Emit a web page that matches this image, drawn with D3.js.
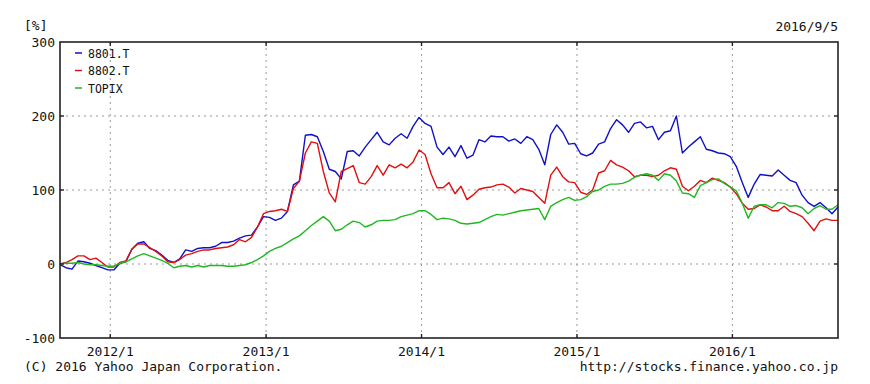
<!DOCTYPE html>
<html lang="ja">
<head>
  <meta charset="UTF-8">
  <title>8801.T / 8802.T / TOPIX</title>
  <script src="https://d3js.org/d3.v7.min.js"></script>
  <style>
    body { margin: 0; background: #fff; }
    svg text { font-family: "DejaVu Sans Mono", "Liberation Mono", monospace; fill: #111; }
    .grid line { stroke: #999; stroke-dasharray: 2,4; }
  </style>
</head>
<body>
  <div id="chart"></div>
  <script>
    // range of the chart: five years up to the date shown top right
    const startDate = new Date(2011, 8, 5);
    const endDate = new Date(2016, 8, 5);

    const seriesNames = ["8801.T", "8802.T", "TOPIX"];
    const seriesColors = ["#1010c8", "#e01010", "#20b820"];

    const yTicks = [-100, 0, 100, 200, 300];
    const xTickDates = [new Date(2012, 0, 1), new Date(2013, 0, 1), new Date(2014, 0, 1), new Date(2015, 0, 1), new Date(2016, 0, 1)];
    const xTickLabels = ["2012/1", "2013/1", "2014/1", "2015/1", "2016/1"];

    // % change, every two weeks
    const mitsui = [
      -1, -5, -7, 4, 3, 1, -2, -5, -8, -8, 1, 3, 20, 28, 30, 21, 18, 12, 5, 2,
      7, 19, 17, 21, 22, 22, 24, 29, 29, 31, 35, 38, 39, 50, 64, 63, 59, 62, 71, 107,
      112, 174, 175, 172, 152, 128, 125, 115, 152, 153, 146, 158, 168, 178, 165, 161, 170, 176, 170, 186,
      198, 190, 186, 158, 148, 158, 145, 160, 143, 147, 168, 165, 173, 172, 172, 166, 169, 163, 172, 168,
      155, 134, 175, 188, 178, 162, 163, 149, 146, 150, 162, 165, 183, 195, 188, 178, 190, 192, 184, 186,
      168, 178, 180, 200, 150, 158, 165, 172, 155, 153, 150, 149, 145, 132, 110, 90, 108, 121, 120, 119,
      127, 120, 113, 110, 93, 83, 78, 83, 76, 68, 77
    ];
    const mitsubishi = [
      0, 2, 6, 11, 11, 6, 8, 2, -4, -4, 2, 4, 20, 27, 27, 22, 17, 11, 3, 2,
      6, 12, 14, 17, 19, 19, 21, 22, 23, 26, 33, 30, 36, 50, 68, 71, 72, 74, 71, 102,
      112, 150, 165, 163, 125, 96, 84, 125, 129, 133, 110, 108, 118, 133, 120, 134, 130, 135, 130, 138,
      154, 148, 122, 103, 103, 110, 95, 105, 87, 93, 101, 103, 104, 107, 108, 104, 96, 102, 100, 98,
      90, 82, 120, 131, 118, 111, 110, 97, 94, 100, 123, 126, 140, 134, 131, 126, 118, 120, 120, 118,
      120, 126, 130, 128, 105, 99, 105, 113, 110, 116, 113, 110, 104, 95, 82, 74, 75, 80, 77, 72,
      72, 78, 71, 68, 64, 55, 45, 58, 61, 59, 59
    ];
    const topix = [
      0, 1, 1, 2, 0, -1, -1, -2, -3, -3, 1, 3, 7, 11, 14, 11, 8, 5, 1, -5,
      -3, -2, -4, -2, -4, -2, -2, -2, -3, -3, -2, -1, 2, 6, 11, 17, 21, 24, 29, 34,
      38, 45, 52, 58, 64, 58, 45, 47, 53, 58, 56, 50, 53, 58, 59, 59, 60, 64, 66, 68,
      72, 72, 67, 60, 62, 61, 59, 55, 54, 55, 56, 60, 64, 67, 66, 68, 70, 72, 73, 74,
      75, 60, 78, 83, 87, 90, 86, 87, 91, 98, 100, 105, 108, 108, 109, 112, 117, 120, 122, 120,
      113, 122, 120, 112, 96, 95, 90, 106, 110, 114, 115, 109, 104, 99, 82, 62, 78, 80, 80, 76,
      83, 82, 78, 79, 76, 68, 75, 79, 74, 74, 80
    ];

    const seriesValues = [mitsui, mitsubishi, topix];
    const n = mitsui.length;
    const dates = d3.range(n).map(i => new Date(+startDate + i * (endDate - startDate) / (n - 1)));

    const width = 870, height = 384;
    const margin = { top: 42, right: 32, bottom: 46, left: 60 };

    const svg = d3.select("#chart").append("svg")
      .attr("width", width)
      .attr("height", height);

    const x = d3.scaleTime()
      .domain([startDate, endDate])
      .range([margin.left, width - margin.right]);

    const y = d3.scaleLinear()
      .domain([-100, 300])
      .range([height - margin.bottom, margin.top]);

    // dotted grid
    const grid = svg.append("g").attr("class", "grid");
    grid.selectAll(".gy")
      .data(yTicks.slice(1, -1))
      .enter().append("line")
      .attr("x1", margin.left).attr("x2", width - margin.right)
      .attr("y1", d => y(d)).attr("y2", d => y(d));
    grid.selectAll(".gx")
      .data(xTickDates)
      .enter().append("line")
      .attr("x1", d => x(d)).attr("x2", d => x(d))
      .attr("y1", margin.top).attr("y2", height - margin.bottom);

    // lines
    const line = d3.line()
      .x((d, i) => x(dates[i]))
      .y(d => y(d));

    svg.append("g")
      .selectAll("path")
      .data(seriesValues)
      .enter().append("path")
      .attr("d", d => line(d))
      .attr("fill", "none")
      .attr("stroke", (d, i) => seriesColors[i])
      .attr("stroke-width", 1.4)
      .attr("stroke-linejoin", "round");

    // frame and inner ticks
    svg.append("rect")
      .attr("x", margin.left).attr("y", margin.top)
      .attr("width", width - margin.left - margin.right)
      .attr("height", height - margin.top - margin.bottom)
      .attr("fill", "none")
      .attr("stroke", "#222")
      .attr("stroke-width", 1.6);

    const ticks = svg.append("g").attr("stroke", "#222").attr("stroke-width", 1.4);
    xTickDates.forEach(d => {
      ticks.append("line").attr("x1", x(d)).attr("x2", x(d)).attr("y1", margin.top).attr("y2", margin.top + 4);
      ticks.append("line").attr("x1", x(d)).attr("x2", x(d)).attr("y1", height - margin.bottom).attr("y2", height - margin.bottom - 4);
    });
    yTicks.slice(1, -1).forEach(v => {
      ticks.append("line").attr("x1", margin.left).attr("x2", margin.left + 4).attr("y1", y(v)).attr("y2", y(v));
      ticks.append("line").attr("x1", width - margin.right).attr("x2", width - margin.right - 4).attr("y1", y(v)).attr("y2", y(v));
    });

    // axis labels
    svg.append("g")
      .selectAll("text")
      .data(yTicks)
      .enter().append("text")
      .attr("x", margin.left - 5)
      .attr("y", d => y(d) + 5)
      .attr("text-anchor", "end")
      .attr("font-size", 13)
      .text(d => d);

    svg.append("g")
      .selectAll("text")
      .data(xTickDates)
      .enter().append("text")
      .attr("x", d => x(d))
      .attr("y", height - margin.bottom + 18)
      .attr("text-anchor", "middle")
      .attr("font-size", 13)
      .text((d, i) => xTickLabels[i]);

    svg.append("text").attr("x", 24).attr("y", 30).attr("font-size", 13).text("[%]");
    svg.append("text").attr("x", width - margin.right).attr("y", 31)
      .attr("text-anchor", "end").attr("font-size", 13).text("2016/9/5");

    svg.append("text").attr("x", 24).attr("y", 371).attr("font-size", 13)
      .text("(C) 2016 Yahoo Japan Corporation.");
    svg.append("text").attr("x", width - margin.right).attr("y", 371)
      .attr("text-anchor", "end").attr("font-size", 13)
      .text("http://stocks.finance.yahoo.co.jp");

    // legend
    const legend = svg.append("g").attr("transform", `translate(${margin.left + 15}, ${margin.top + 11})`);
    seriesNames.forEach((name, i) => {
      legend.append("line")
        .attr("x1", 0).attr("x2", 7)
        .attr("y1", i * 17.5).attr("y2", i * 17.5)
        .attr("stroke", seriesColors[i]).attr("stroke-width", 1.5);
      legend.append("text")
        .attr("x", 13).attr("y", i * 17.5 + 4.5)
        .attr("font-size", 11.5)
        .text(name);
    });
  </script>
</body>
</html>
